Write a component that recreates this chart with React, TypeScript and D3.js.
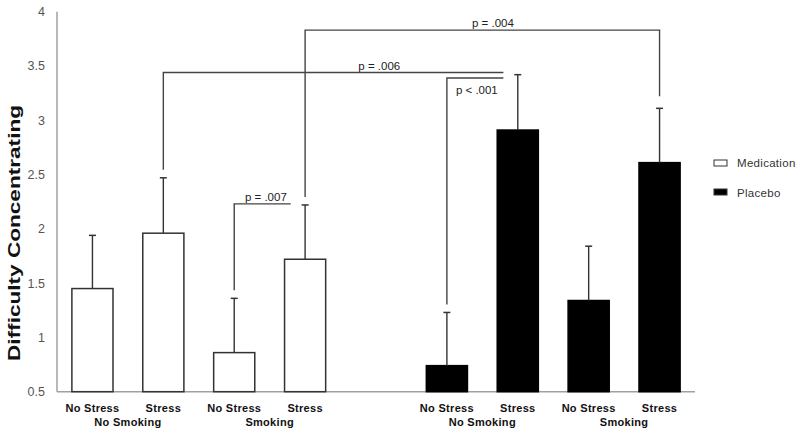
import React, { useRef, useEffect } from "react";
import * as d3 from "d3";

// data
const groups = ["Medication", "Placebo"];
const conditionKeys = ["NoStress_NoSmoking", "Stress_NoSmoking", "NoStress_Smoking", "Stress_Smoking"];
const stressLabels = ["No Stress", "Stress", "No Stress", "Stress"];
const smokingLabels = ["No Smoking", "Smoking"];
const medicationMeans = [1.45, 1.96, 0.86, 1.72];
const medicationErrors = [0.49, 0.51, 0.5, 0.5];
const placeboMeans = [0.74, 2.91, 1.34, 2.61];
const placeboErrors = [0.49, 0.51, 0.5, 0.5];
const yDomain = [0.5, 4];

// significance brackets: [group, condition] for each end, bracket level on the y scale
const comparisons = [
  { label: "p = .004", from: [0, 3], to: [1, 3], level: 3.83, dropTo: true, at: 0.53, below: false },
  { label: "p = .006", from: [0, 1], to: [1, 1], level: 3.44, dropTo: false, at: 0.635, below: false },
  { label: "p < .001", from: [1, 0], to: [1, 1], level: 3.39, dropTo: false, at: 0, below: true },
  { label: "p = .007", from: [0, 2], to: [0, 3], level: 2.23, dropTo: false, at: 0.56, below: false },
];

const FONT = "'Liberation Sans', Arial, sans-serif";

export default function App() {
  const svgRef = useRef<SVGSVGElement>(null);

  useEffect(() => {
    const w = 800;
    const h = 435;
    const left = 57;
    const right = 695;
    const svg = d3.select(svgRef.current);
    svg.selectAll("*").remove();

    const means = [medicationMeans, placeboMeans];
    const errors = [medicationErrors, placeboErrors];

    // scales
    const xGroup = d3.scaleBand<string>().domain(groups).range([left, right]).paddingInner(0.2).paddingOuter(0);
    const xCond = d3
      .scaleBand<string>()
      .domain(conditionKeys)
      .range([0, xGroup.bandwidth()])
      .paddingInner(0.42)
      .paddingOuter(0.21);
    const y = d3.scaleLinear().domain(yDomain).range([391.7, 11.7]);

    const barX = (g: number, c: number) => (xGroup(groups[g]) as number) + (xCond(conditionKeys[c]) as number);
    const barMid = (g: number, c: number) => barX(g, c) + xCond.bandwidth() / 2;
    const errTop = (g: number, c: number) => y(means[g][c] + errors[g][c]);

    // axes
    svg
      .append("line")
      .attr("x1", left)
      .attr("x2", left)
      .attr("y1", y(yDomain[1]))
      .attr("y2", y(yDomain[0]))
      .attr("stroke", "#a0a0a0")
      .attr("stroke-width", 1.5);
    svg
      .append("line")
      .attr("x1", left)
      .attr("x2", right)
      .attr("y1", y(yDomain[0]))
      .attr("y2", y(yDomain[0]))
      .attr("stroke", "#a0a0a0")
      .attr("stroke-width", 1.5);

    svg
      .append("g")
      .selectAll("text")
      .data(y.ticks(7))
      .join("text")
      .attr("x", 45)
      .attr("y", (d) => y(d))
      .attr("dy", "0.35em")
      .attr("text-anchor", "end")
      .attr("font-family", FONT)
      .attr("font-size", 12.5)
      .attr("fill", "#555")
      .text((d) => String(d));

    svg
      .append("text")
      .attr("transform", `translate(20, 233) rotate(-90)`)
      .attr("text-anchor", "middle")
      .attr("font-family", FONT)
      .attr("font-size", 17)
      .attr("font-weight", "bold")
      .attr("fill", "#111")
      .attr("textLength", 256)
      .attr("lengthAdjust", "spacingAndGlyphs")
      .text("Difficulty Concentrating");

    // bars
    groups.forEach((grp, g) => {
      const gSel = svg.append("g");
      gSel
        .selectAll("rect")
        .data(means[g])
        .join("rect")
        .attr("x", (d, c) => barX(g, c))
        .attr("y", (d) => y(d))
        .attr("width", xCond.bandwidth())
        .attr("height", (d) => y(yDomain[0]) - y(d))
        .attr("fill", g === 0 ? "#fff" : "#000")
        .attr("stroke", g === 0 ? "#333" : "#000")
        .attr("stroke-width", 1.5);

      // upper error bars
      gSel
        .selectAll("line.err")
        .data(means[g])
        .join("line")
        .attr("class", "err")
        .attr("x1", (d, c) => barMid(g, c))
        .attr("x2", (d, c) => barMid(g, c))
        .attr("y1", (d) => y(d))
        .attr("y2", (d, c) => errTop(g, c))
        .attr("stroke", "#333")
        .attr("stroke-width", 1.4);
      gSel
        .selectAll("line.cap")
        .data(means[g])
        .join("line")
        .attr("class", "cap")
        .attr("x1", (d, c) => barMid(g, c) - 3.5)
        .attr("x2", (d, c) => barMid(g, c) + 3.5)
        .attr("y1", (d, c) => errTop(g, c))
        .attr("y2", (d, c) => errTop(g, c))
        .attr("stroke", "#333")
        .attr("stroke-width", 1.5);

      // category labels
      gSel
        .selectAll("text.stress")
        .data(stressLabels)
        .join("text")
        .attr("class", "stress")
        .attr("x", (d, c) => barMid(g, c))
        .attr("y", 412)
        .attr("text-anchor", "middle")
        .attr("font-family", FONT)
        .attr("font-size", 11)
        .attr("font-weight", "bold")
        .attr("letter-spacing", 0.3)
        .attr("fill", "#111")
        .text((d) => d);
      gSel
        .selectAll("text.smoke")
        .data(smokingLabels)
        .join("text")
        .attr("class", "smoke")
        .attr("x", (d, i) => (barMid(g, i * 2) + barMid(g, i * 2 + 1)) / 2)
        .attr("y", 426)
        .attr("text-anchor", "middle")
        .attr("font-family", FONT)
        .attr("font-size", 11)
        .attr("font-weight", "bold")
        .attr("letter-spacing", 0.3)
        .attr("fill", "#111")
        .text((d) => d);
    });

    // significance brackets
    const dropGap = 8;
    comparisons.forEach((cmp) => {
      const x1 = barMid(cmp.from[0], cmp.from[1]);
      const x2 = cmp.dropTo
        ? barMid(cmp.to[0], cmp.to[1])
        : barX(cmp.to[0], cmp.to[1]) + xCond.bandwidth() * 0.15;
      const ly = y(cmp.level);
      const pts: [number, number][] = [
        [x1, errTop(cmp.from[0], cmp.from[1]) - dropGap],
        [x1, ly],
        [x2, ly],
      ];
      if (cmp.dropTo) pts.push([x2, errTop(cmp.to[0], cmp.to[1]) - 12]);
      svg
        .append("path")
        .attr("d", d3.line()(pts))
        .attr("fill", "none")
        .attr("stroke", "#444")
        .attr("stroke-width", 1.4);
      svg
        .append("text")
        .attr("x", cmp.below ? x1 + 9 : x1 + (x2 - x1) * cmp.at)
        .attr("y", cmp.below ? ly + 16.5 : ly - 3)
        .attr("text-anchor", cmp.below ? "start" : "middle")
        .attr("font-family", FONT)
        .attr("font-size", 11.5)
        .attr("fill", "#222")
        .text(cmp.label);
    });

    // legend
    const legend = svg.append("g").attr("transform", "translate(714, 160)");
    legend
      .selectAll("rect")
      .data(groups)
      .join("rect")
      .attr("x", 0)
      .attr("y", (d, i) => i * 29)
      .attr("width", 13)
      .attr("height", i => 6)
      .attr("fill", (d, i) => (i === 0 ? "#fff" : "#000"))
      .attr("stroke", "#333")
      .attr("stroke-width", 1);
    legend
      .selectAll("text")
      .data(groups)
      .join("text")
      .attr("x", 23)
      .attr("y", (d, i) => i * 30 + 3)
      .attr("dy", "0.35em")
      .attr("font-family", FONT)
      .attr("font-size", 11.5)
      .attr("letter-spacing", 0.3)
      .attr("fill", "#333")
      .text((d) => d);

    svg.attr("width", w).attr("height", h);
  }, []);

  return (
    <svg
      ref={svgRef}
      width={800}
      height={435}
      style={{ position: "absolute", left: 0, top: 0, background: "#fff" }}
    ></svg>
  );
}
